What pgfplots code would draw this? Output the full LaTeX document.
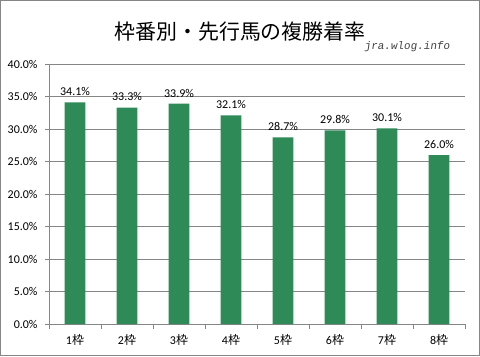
\documentclass[border=0pt]{standalone}
\usepackage{fontspec}
\setmainfont{Carlito}
\newfontfamily\jp{Noto Sans CJK JP}
\newfontfamily\wm{Liberation Mono}[FakeSlant=0.15]
\usepackage{pgfplots}
\pgfplotsset{compat=1.18}
\definecolor{bargreen}{RGB}{46,139,87}
\definecolor{gridgray}{RGB}{134,134,134}
\begin{document}
\begin{tikzpicture}[x=1bp,y=1bp]
\draw[gridgray, line width=1bp] (0.5,0.5) rectangle (479.5,355.5);
\node[font=\jp\fontsize{21}{24}\selectfont] at (240,324) {枠番別・先行馬の複勝着率};
\node[font=\wm\fontsize{11}{13}\selectfont, text=black!75] at (407,309) {jra.wlog.info};
\begin{axis}[
  at={(49bp,32bp)}, anchor=south west,
  scale only axis, width=416bp, height=260bp,
  xmin=-0.5, xmax=7.5, ymin=0, ymax=40,
  axis line style={gridgray},
  axis x line*=bottom, axis y line*=left,
  xtick={0,...,7},
  xticklabels={1{\jp 枠},2{\jp 枠},3{\jp 枠},4{\jp 枠},5{\jp 枠},6{\jp 枠},7{\jp 枠},8{\jp 枠}},
  minor xtick={-0.5,0.5,...,7.5},
  major x tick style={draw=none},
  minor x tick style={gridgray},
  minor tick length=5bp,
  ytick={0,5,...,40},
  major tick length=4bp,
  tick align=outside,
  y tick style={gridgray},
  ymajorgrids, grid style={gridgray, line width=0.6bp},
  yticklabel={\pgfmathprintnumber[fixed,fixed zerofill,precision=1]{\tick}\%},
  /pgf/number format/assume math mode=true,
  tick label style={font=\fontsize{12}{14}\selectfont, text=black},
  yticklabel style={xshift=-4bp},
  xticklabel style={yshift=-3bp},
  nodes near coords={\pgfmathprintnumber[fixed,fixed zerofill,precision=1]{\pgfplotspointmeta}\%},
  nodes near coords style={font=\fontsize{12}{14}\selectfont, text=black, yshift=3bp},
]
\addplot[ybar, bar width=20.8bp, fill=bargreen, draw=none] coordinates {
(0,34.1) (1,33.3) (2,33.9) (3,32.1) (4,28.7) (5,29.8) (6,30.1) (7,26.0)};
\end{axis}
\end{tikzpicture}
\end{document}
